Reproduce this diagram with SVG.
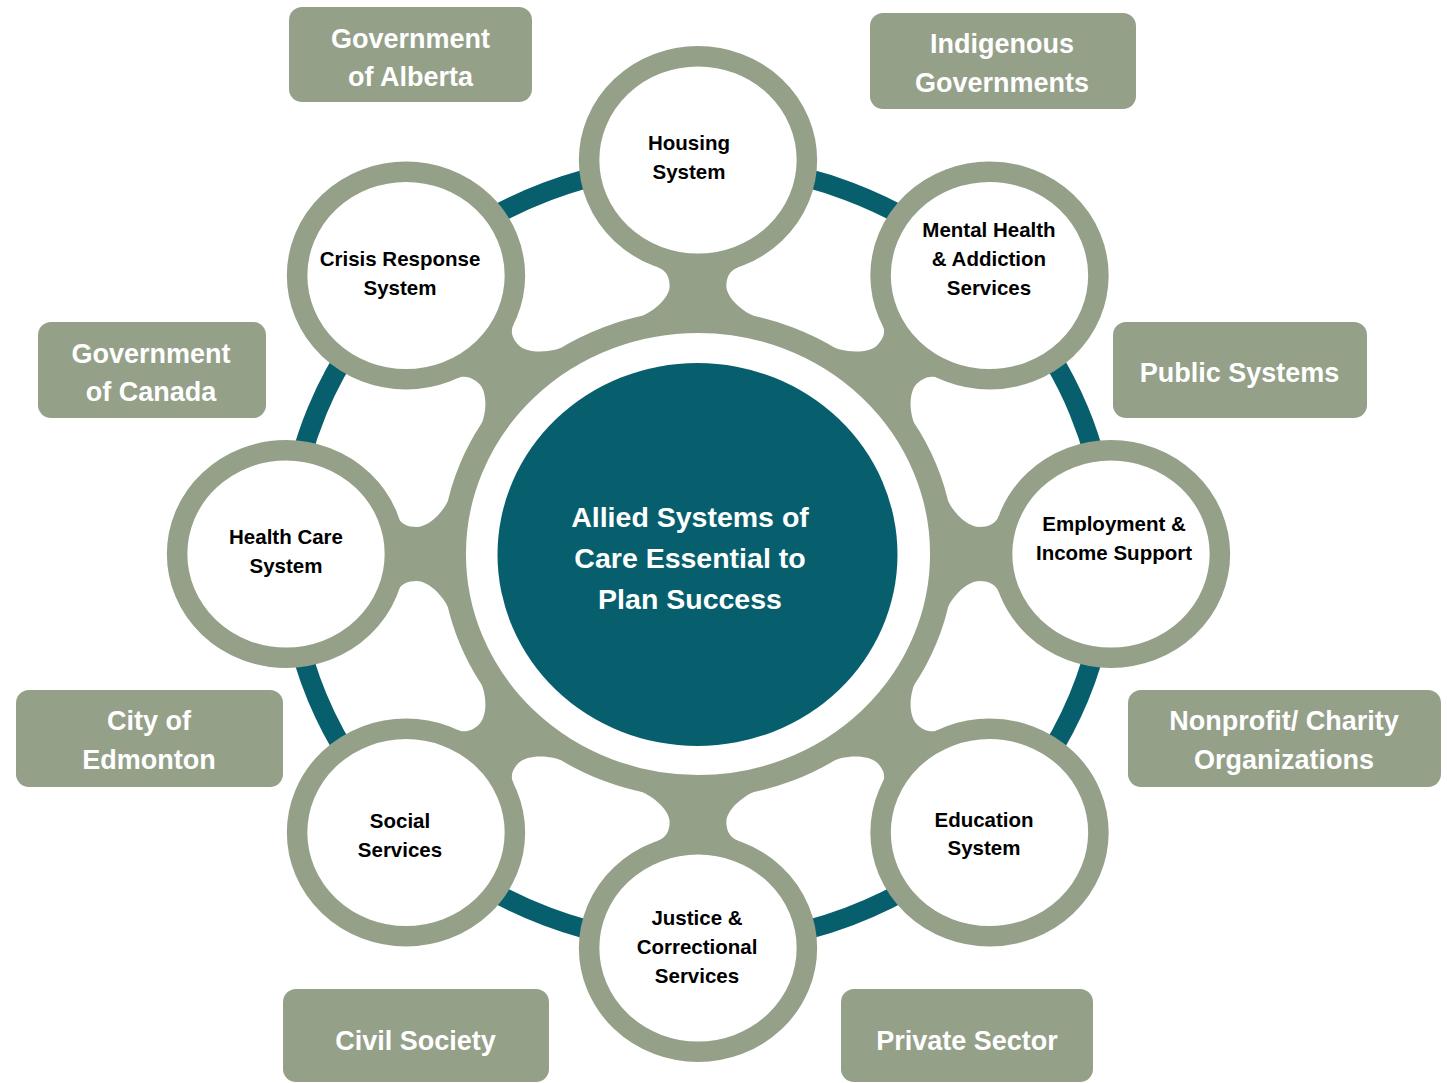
<svg xmlns="http://www.w3.org/2000/svg" width="1447" height="1083" viewBox="0 0 1447 1083">
<style>
.bg{fill:#ffffff}
.teal-ring{fill:none;stroke:#075F6D;stroke-width:19}
.gray-ring{fill:none;stroke:#95A089;stroke-width:23}
.neck{fill:#95A089}
.sat{fill:#ffffff;stroke:#95A089;stroke-width:20.5}
.core{fill:#075F6D}
.box{fill:#95A089}
.lbl{font-family:"Liberation Sans",Arial,sans-serif;font-weight:bold;font-size:20.5px;fill:#000000;text-anchor:middle}
.btxt{font-family:"Liberation Sans",Arial,sans-serif;font-weight:bold;font-size:27px;fill:#ffffff;text-anchor:middle}
.ctxt{font-family:"Liberation Sans",Arial,sans-serif;font-weight:bold;font-size:28.5px;fill:#ffffff;text-anchor:middle}
</style>
<defs>
<path id="neckShape" d="M 234,-64 C 239,-44 256,-27 268,-27 C 276,-27 283.7,-30 286.5,-38 L 292,-38 L 292,38 L 286.5,38 C 283.7,30 276,27 268,27 C 256,27 239,44 234,64 Z"/>
</defs>
<rect class="bg" x="0" y="0" width="1447" height="1083"/>

<g id="connectors" transform="translate(698,554) scale(1.05,1)">
  <circle class="teal-ring" cx="0" cy="0" r="390"/>
  <use href="#neckShape" class="neck" transform="rotate(0)"/>
  <use href="#neckShape" class="neck" transform="rotate(45)"/>
  <use href="#neckShape" class="neck" transform="rotate(90)"/>
  <use href="#neckShape" class="neck" transform="rotate(135)"/>
  <use href="#neckShape" class="neck" transform="rotate(180)"/>
  <use href="#neckShape" class="neck" transform="rotate(225)"/>
  <use href="#neckShape" class="neck" transform="rotate(270)"/>
  <use href="#neckShape" class="neck" transform="rotate(315)"/>
  <circle class="gray-ring" cx="0" cy="0" r="232.5"/>
</g>

<g id="center">
  <ellipse class="core" cx="697.5" cy="554.5" rx="200" ry="191.5"/>
  <text class="ctxt" x="690" y="527">Allied Systems of</text>
  <text class="ctxt" x="690" y="568">Care Essential to</text>
  <text class="ctxt" x="690" y="609">Plan Success</text>
</g>

<g id="housing">
  <ellipse class="sat" cx="698" cy="160" rx="108.9" ry="103.75"/>
  <text class="lbl" x="689" y="150">Housing</text>
  <text class="lbl" x="689" y="179">System</text>
</g>
<g id="mental-health">
  <ellipse class="sat" cx="989.5" cy="275.5" rx="108.9" ry="103.75"/>
  <text class="lbl" x="989" y="237">Mental Health</text>
  <text class="lbl" x="989" y="266">&amp; Addiction</text>
  <text class="lbl" x="989" y="295">Services</text>
</g>
<g id="employment">
  <ellipse class="sat" cx="1111" cy="554" rx="108.9" ry="103.75"/>
  <text class="lbl" x="1114" y="531">Employment &amp;</text>
  <text class="lbl" x="1114" y="560">Income Support</text>
</g>
<g id="education">
  <ellipse class="sat" cx="989.5" cy="832.5" rx="108.9" ry="103.75"/>
  <text class="lbl" x="984" y="827">Education</text>
  <text class="lbl" x="984" y="855">System</text>
</g>
<g id="justice">
  <ellipse class="sat" cx="698" cy="948" rx="108.9" ry="103.75"/>
  <text class="lbl" x="697" y="925">Justice &amp;</text>
  <text class="lbl" x="697" y="954">Correctional</text>
  <text class="lbl" x="697" y="983">Services</text>
</g>
<g id="social-services">
  <ellipse class="sat" cx="406" cy="832.5" rx="108.9" ry="103.75"/>
  <text class="lbl" x="400" y="828">Social</text>
  <text class="lbl" x="400" y="857">Services</text>
</g>
<g id="health-care">
  <ellipse class="sat" cx="286" cy="554" rx="108.9" ry="103.75"/>
  <text class="lbl" x="286" y="544">Health Care</text>
  <text class="lbl" x="286" y="573">System</text>
</g>
<g id="crisis-response">
  <ellipse class="sat" cx="406" cy="275.5" rx="108.9" ry="103.75"/>
  <text class="lbl" x="400" y="266">Crisis Response</text>
  <text class="lbl" x="400" y="295">System</text>
</g>

<g id="gov-alberta">
  <rect class="box" x="289" y="7" width="243" height="95" rx="13"/>
  <text class="btxt" x="410.5" y="48">Government</text>
  <text class="btxt" x="410.5" y="86">of Alberta</text>
</g>
<g id="indigenous">
  <rect class="box" x="870" y="13" width="266" height="96" rx="13"/>
  <text class="btxt" x="1002" y="53">Indigenous</text>
  <text class="btxt" x="1002" y="92">Governments</text>
</g>
<g id="gov-canada">
  <rect class="box" x="38" y="322" width="228" height="96" rx="13"/>
  <text class="btxt" x="151" y="363">Government</text>
  <text class="btxt" x="151" y="401">of Canada</text>
</g>
<g id="public-systems">
  <rect class="box" x="1113" y="322" width="254" height="96" rx="13"/>
  <text class="btxt" x="1239.5" y="382">Public Systems</text>
</g>
<g id="city-edmonton">
  <rect class="box" x="16" y="690" width="267" height="97" rx="13"/>
  <text class="btxt" x="149" y="730">City of</text>
  <text class="btxt" x="149" y="769">Edmonton</text>
</g>
<g id="nonprofit">
  <rect class="box" x="1128" y="690" width="313" height="97" rx="13"/>
  <text class="btxt" x="1284" y="730">Nonprofit/ Charity</text>
  <text class="btxt" x="1284" y="769">Organizations</text>
</g>
<g id="civil-society">
  <rect class="box" x="283" y="989" width="266" height="93" rx="13"/>
  <text class="btxt" x="415.5" y="1050">Civil Society</text>
</g>
<g id="private-sector">
  <rect class="box" x="841" y="989" width="252" height="93" rx="13"/>
  <text class="btxt" x="967" y="1050">Private Sector</text>
</g>
</svg>
